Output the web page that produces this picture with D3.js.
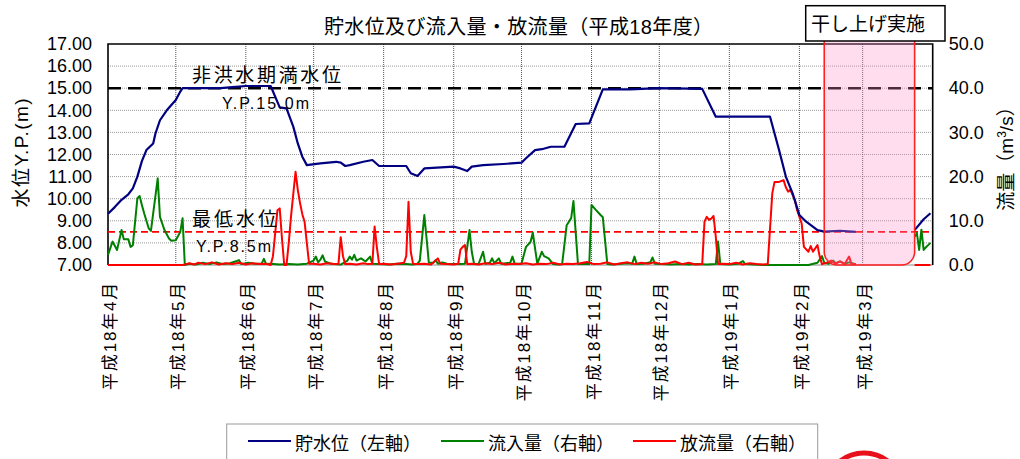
<!DOCTYPE html>
<html>
<head>
<meta charset="utf-8">
<script src="https://cdn.jsdelivr.net/npm/d3@7"></script>
<style>
  body { margin: 0; background: #fff; }
  text { font-family: "Liberation Sans", "Noto Sans CJK JP", sans-serif; fill: #000; }
</style>
</head>
<body>
<script>
// fiscal year H18: day 0 = 2006-04-01
const months = ['平成18年4月','平成18年5月','平成18年6月','平成18年7月','平成18年8月','平成18年9月',
  '平成18年10月','平成18年11月','平成18年12月','平成19年1月','平成19年2月','平成19年3月']
const levelTicks = [7,8,9,10,11,12,13,14,15,16,17]
const flowTicks = [0,10,20,30,40,50]
const fullLevel = 15.0   // 非洪水期満水位
const minLevel = 8.5     // 最低水位
const dryPeriod = [317, 357]  // 干し上げ実施 (day offsets)

// 貯水位 (m, left axis) [day, value]
const level = [[0,9.32],[3,9.62],[6,9.95],[9,10.2],[11,10.47],[13,11.0],[15,11.7],[17,12.2],[20,12.5],[21,12.95],
  [23,13.55],[26,14.0],[30,14.47],[32,14.85],[33,15.0],[50,15.0],[55,15.05],[61,15.1],[72,15.1],[76,14.13],[79,14.09],
  [82,13.26],[84,12.5],[86,11.9],[88,11.52],[94,11.6],[101,11.67],[103,11.63],[105,11.48],[107,11.52],[113,11.67],
  [117,11.75],[120,11.48],[132,11.48],[134,11.15],[137,11.03],[140,11.37],[153,11.45],[156,11.37],[159,11.25],
  [161,11.45],[166,11.52],[175,11.57],[183,11.63],[185,11.83],[189,12.2],[192,12.24],[196,12.35],[202,12.35],
  [207,13.38],[213,13.41],[219,14.95],[231,14.95],[244,15.0],[263,14.97],[269,13.71],[293,13.71],[297,12.2],
  [300,11.0],[303,10.24],[306,9.26],[309,8.96],[314,8.58],[317,8.51],[324,8.55],[331,8.5],[332,null],
  [357,8.58],[361,9.07],[364,9.34]]

// 流入量 (m3/s, right axis)
const inflow = [[0,2.3],[2,5.3],[4,3.4],[6,7.9],[7,5.8],[9,5.8],[10,4.1],[11,4.5],[13,15.1],[14,15.6],[15,13.6],
  [16,11.7],[18,8.3],[19,7.7],[20,11.7],[22,19.6],[23,10.9],[24,9.4],[25,7.9],[27,6.0],[28,5.5],[30,5.6],[32,7.5],
  [33,10.6],[34,0],[36,0.3],[39,0.1],[42,0.5],[45,0.2],[48,0.6],[51,0.2],[54,0.4],[57,0.9],[58,1.1],[59,0.2],
  [62,0.5],[65,0.3],[68,0.3],[69,1.4],[70,0.2],[72,0.3],[76,0.1],[80,0.2],[84,0.1],[88,0.3],[91,1.0],[92,1.9],
  [93,0.6],[94,1.2],[95,2.2],[96,0.8],[98,0.4],[100,0.2],[103,0.1],[106,1.0],[107,1.9],[108,1.2],[109,2.3],
  [110,1.0],[112,1.5],[114,0.8],[116,1.9],[117,0.3],[120,0.2],[124,0.1],[128,0.3],[132,0.2],[135,0.1],[137,0.3],
  [138,1.0],[140,11.3],[141,6.0],[142,0.5],[144,0.5],[145,1.1],[146,0.3],[148,0.6],[150,0.3],[153,0.2],[156,0.2],
  [158,0.3],[160,7.9],[161,3.0],[162,0.3],[164,0.2],[166,3.0],[167,0.3],[169,0.5],[170,1.5],[171,0.4],[173,1.5],
  [174,0.3],[176,0.4],[178,0.5],[179,1.9],[180,0.3],[183,0.3],[185,4.1],[187,5.2],[188,7.3],[190,0.3],[192,3.0],
  [193,2.0],[195,1.5],[197,0.2],[199,0.1],[201,0.2],[203,9.0],[205,10.6],[206,14.5],[208,0.2],[210,0.2],[213,0.2],
  [214,13.6],[216,12.4],[218,11.3],[219,10.8],[221,0.2],[223,0.1],[226,0.2],[230,0.4],[232,0.3],[233,1.9],
  [234,0.2],[237,0.3],[240,0.6],[241,1.7],[242,0.3],[245,0.2],[249,0.1],[253,0.2],[257,0.1],[261,0.2],[265,0.1],
  [269,0.2],[270,5.3],[271,0.2],[275,0.1],[279,0.3],[281,0.9],[282,0.2],[286,0.1],[290,0],[300,0],[310,0],
  [314,0.5],[316,2.0],[317,0.5],[319,0.3],[321,1.0],[322,0.4],[324,0.8],[326,0.3],[328,0.6],[331,0.2],[332,null],
  [357,6.4],[358,7.2],[359,3.4],[360,8.0],[361,3.4],[362,4.0],[363,4.5],[364,5.0]]

// 放流量 (m3/s, right axis)
const outflow = [[0,0],[33,0],[34,0.1],[36,0.4],[38,0.1],[40,0.5],[43,0.2],[46,0.6],[49,0.1],[52,0.4],[55,0.2],
  [58,0.5],[61,0.1],[64,0.4],[67,0.2],[70,0.3],[72,0],[73,2.0],[75,12.4],[76,12.8],[77,6.0],[78,0],[79,0],[80,5.0],
  [81,11.0],[83,21.1],[84,17.0],[85,14.0],[86,11.5],[87,9.8],[88,5.0],[89,0.3],[91,0.3],[94,0.1],[97,0.4],[100,0.2],
  [102,0.3],[103,6.3],[104,2.0],[105,0.2],[107,0.3],[110,0.1],[113,0.4],[115,0.2],[117,0.3],[118,8.7],[119,4.0],
  [120,0.2],[122,0.3],[125,0.1],[128,0.3],[131,0.5],[132,2.0],[133,14.3],[134,3.0],[135,0.3],[137,0.2],[140,0.3],
  [143,0.1],[146,1.5],[147,0.3],[150,0.2],[153,0.1],[155,0.3],[156,3.5],[157,4.1],[158,4.5],[159,0.2],[161,0.3],
  [164,0.1],[167,0.4],[170,0.2],[173,0.5],[176,0.1],[179,0.3],[182,0.2],[185,0.4],[188,0.1],[191,0.3],[194,0.2],
  [197,0.5],[200,0.1],[203,0.3],[206,0.2],[209,0.4],[212,0.7],[215,0.2],[218,0.3],[221,0.6],[224,0.1],[227,0.4],
  [230,0.6],[233,0.2],[236,0.5],[239,0.3],[242,0.6],[245,0.2],[248,0.4],[251,0.8],[254,0.2],[257,0.5],[260,0.1],
  [263,0.2],[264,9.8],[265,10.9],[266,10.2],[267,10.5],[268,11.1],[269,6.4],[270,0.2],[272,0.3],[275,0.2],
  [278,0.5],[281,0.1],[284,0.4],[287,0.2],[290,0.1],[292,0.2],[294,16.2],[295,18.8],[297,18.8],[299,19.2],
  [300,17.6],[301,16.6],[302,17.0],[304,14.7],[305,12.4],[307,9.4],[308,4.1],[310,3.0],[311,4.3],[312,3.0],
  [314,4.5],[315,1.9],[316,0.2],[318,0.5],[320,1.0],[322,0.3],[324,0.8],[326,0.2],[328,1.9],[329,0.3],[331,0.2],
  [332,null],[357,0],[364,0]]

const series = [
  {name:'貯水位（左軸）', color:'#000080'},
  {name:'流入量（右軸）', color:'#008000'},
  {name:'放流量（右軸）', color:'#ff0000'},
]

const START = new Date(2006, 3, 1), END = new Date(2007, 3, 1)
const day = d => d3.timeDay.offset(START, d)

const svg = d3.select('body').append('svg').attr('width', 1020).attr('height', 459)
const plot = {left: 108, right: 932.7, top: 44, bottom: 265}

const x = d3.scaleTime().domain([START, END]).range([plot.left, plot.right])
const yL = d3.scaleLinear().domain([7, 17]).range([plot.bottom, plot.top])
const yR = d3.scaleLinear().domain([0, 50]).range([plot.bottom, plot.top])
const monthStarts = d3.timeMonth.range(START, END)

// grid
const grid = svg.append('g')
grid.selectAll('.hg').data(levelTicks.slice(1, -1)).enter().append('line')
  .attr('x1', plot.left).attr('x2', plot.right)
  .attr('y1', d => yL(d)).attr('y2', d => yL(d))
  .attr('stroke', '#999').attr('stroke-dasharray', '1,1')
grid.selectAll('.vg').data(monthStarts.slice(1)).enter().append('line')
  .attr('x1', d => x(d)).attr('x2', d => x(d))
  .attr('y1', plot.top).attr('y2', plot.bottom)
  .attr('stroke', '#555').attr('stroke-dasharray', '1,1')

// frame
svg.append('line').attr('x1', plot.left).attr('x2', plot.right).attr('y1', plot.bottom).attr('y2', plot.bottom)
  .attr('stroke', '#888')
svg.append('path')
  .attr('d', `M${plot.left},${plot.bottom}V${plot.top}H${plot.right}V${plot.bottom}`)
  .attr('fill', 'none').attr('stroke', '#000').attr('stroke-width', 1.6)

// reference levels
svg.append('line').attr('x1', plot.left).attr('x2', plot.right)
  .attr('y1', yL(fullLevel)).attr('y2', yL(fullLevel))
  .attr('stroke', '#000').attr('stroke-width', 2.4).attr('stroke-dasharray', '13,7')
svg.append('line').attr('x1', plot.left).attr('x2', plot.right)
  .attr('y1', yL(minLevel)).attr('y2', yL(minLevel))
  .attr('stroke', '#ff0000').attr('stroke-width', 1.8).attr('stroke-dasharray', '7,4')

// series lines
const flowLine = d3.line().defined(d => d[1] != null).x(d => x(day(d[0]))).y(d => yR(d[1]))
const levelLine = d3.line().defined(d => d[1] != null).x(d => x(day(d[0]))).y(d => yL(d[1]))
svg.append('path').datum(inflow).attr('d', flowLine)
  .attr('fill', 'none').attr('stroke', series[1].color).attr('stroke-width', 2).attr('stroke-linejoin', 'round')
svg.append('path').datum(outflow).attr('d', flowLine)
  .attr('fill', 'none').attr('stroke', series[2].color).attr('stroke-width', 2).attr('stroke-linejoin', 'round')
svg.append('path').datum(level).attr('d', levelLine)
  .attr('fill', 'none').attr('stroke', series[0].color).attr('stroke-width', 2.2).attr('stroke-linejoin', 'round')

// drying period: open-topped box with rounded bottom corners
const dx0 = x(day(dryPeriod[0])), dx1 = x(day(dryPeriod[1])), r = 13, boxBottom = 41
const dryPath = `M${dx0},${boxBottom}V${plot.bottom - r}A${r},${r} 0 0 0 ${dx0 + r},${plot.bottom}` +
  `H${dx1 - r}A${r},${r} 0 0 0 ${dx1},${plot.bottom - r}V${boxBottom}`
svg.append('path').attr('d', dryPath + 'Z')
  .attr('fill', '#ff8fc7').attr('fill-opacity', 0.3).attr('stroke', 'none')
svg.append('path').attr('d', dryPath)
  .attr('fill', 'none').attr('stroke', '#ff2020').attr('stroke-width', 1.6)
svg.append('rect').attr('x', 805.7).attr('y', 5.7).attr('width', 139.3).attr('height', boxBottom - 5.7)
  .attr('fill', '#fff').attr('stroke', '#000').attr('stroke-width', 1.5)
svg.append('text').attr('x', 811).attr('y', 30.5).attr('font-size', 19)
  .attr('textLength', 114).attr('lengthAdjust', 'spacing').text('干し上げ実施')

// axes
const axL = svg.append('g').attr('transform', `translate(${plot.left},0)`)
  .call(d3.axisLeft(yL).tickValues(levelTicks).tickFormat(d3.format('.2f')).tickSize(0).tickPadding(16))
const axR = svg.append('g').attr('transform', `translate(${plot.right},0)`)
  .call(d3.axisRight(yR).tickValues(flowTicks).tickFormat(d3.format('.1f')).tickSize(0).tickPadding(16))
const axB = svg.append('g').attr('transform', `translate(0,${plot.bottom})`)
  .call(d3.axisBottom(x).tickValues(monthStarts).tickFormat((d, i) => months[i]).tickSize(0))
;[axL, axR, axB].forEach(a => {
  a.select('.domain').remove()
  a.selectAll('.tick text').attr('font-family', null).attr('fill', '#000')
})
axL.selectAll('.tick text').attr('font-size', 18)
axR.selectAll('.tick text').attr('font-size', 18)
axB.selectAll('.tick text')
  .attr('font-size', 17).attr('letter-spacing', 1.8)
  .attr('transform', 'rotate(-90)')
  .attr('text-anchor', 'end').attr('x', -16).attr('y', 1.5).attr('dy', '0.36em')

// titles
svg.append('text').attr('x', 324).attr('y', 33.5).attr('font-size', 20)
  .attr('textLength', 389).attr('lengthAdjust', 'spacing')
  .text('貯水位及び流入量・放流量（平成18年度）')
svg.append('text').attr('transform', 'translate(21,153) rotate(-90)')
  .attr('text-anchor', 'middle').attr('dy', '0.36em').attr('font-size', 19)
  .attr('textLength', 109).attr('lengthAdjust', 'spacing').text('水位Y.P.(m)')
const rt = svg.append('text').attr('transform', 'translate(1006.5,154) rotate(-90)')
  .attr('text-anchor', 'middle').attr('dy', '0.36em').attr('font-size', 19)
rt.append('tspan').text('流量（m')
rt.append('tspan').attr('font-size', 12).attr('baseline-shift', 'super').text('3')
rt.append('tspan').text('/s）')

// level annotations
svg.append('text').attr('x', 192).attr('y', 82).attr('font-size', 19)
  .attr('textLength', 149).attr('lengthAdjust', 'spacing').text('非洪水期満水位')
svg.append('text').attr('x', 222).attr('y', 108.5).attr('font-size', 16)
  .attr('textLength', 87).attr('lengthAdjust', 'spacing').text('Y.P.15.0m')
svg.append('text').attr('x', 192).attr('y', 226).attr('font-size', 19)
  .attr('textLength', 85).attr('lengthAdjust', 'spacing').text('最低水位')
svg.append('text').attr('x', 196).attr('y', 251.5).attr('font-size', 16)
  .attr('textLength', 75).attr('lengthAdjust', 'spacing').text('Y.P.8.5m')

// legend
svg.append('rect').attr('x', 226.7).attr('y', 424).attr('width', 591).attr('height', 60)
  .attr('fill', '#fff').attr('stroke', '#999')
const legendX = [248, 441, 633]
const lg = svg.selectAll('.lg').data(series).enter().append('g')
  .attr('transform', (d, i) => `translate(${legendX[i]},441)`)
lg.append('line').attr('x1', 0).attr('x2', 43).attr('stroke', d => d.color).attr('stroke-width', 2)
lg.append('text').attr('x', 47).attr('y', 8.5).attr('font-size', 18).text(d => d.name)

// stamp mark partly visible at the bottom
svg.append('circle').attr('cx', 864).attr('cy', 492).attr('r', 39)
  .attr('fill', 'none').attr('stroke', '#e8101a').attr('stroke-width', 5)
</script>
</body>
</html>
